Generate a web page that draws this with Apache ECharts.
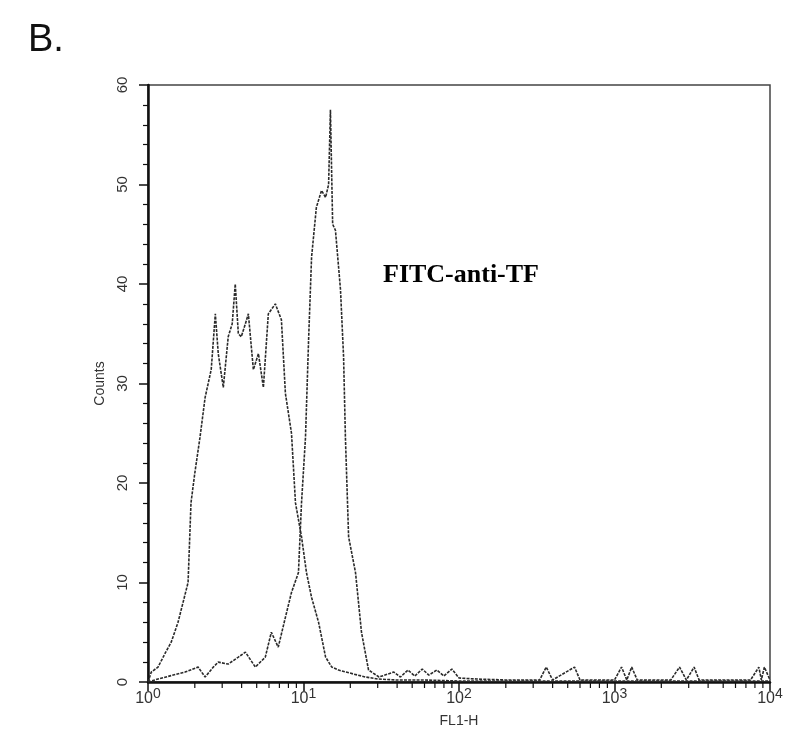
<!DOCTYPE html>
<html><head><meta charset="utf-8">
<script src="https://cdn.jsdelivr.net/npm/echarts@6/dist/echarts.min.js"></script>
<style>html,body{margin:0;padding:0;background:#fff}#c{width:788px;height:744px}</style>
</head><body><div id="c"></div>
<script>
// Control (isotype) histogram: FL1-H channel value, counts
const ctrlX = [1.0,1.05,1.16,1.3,1.41,1.56,1.81,1.89,2.0,2.16,2.33,2.55,2.71,2.83,3.05,3.28,3.48,3.64,3.81,3.98,4.23,4.42,4.76,5.13,5.52,5.94,6.59,7.21,7.65,8.37,8.88,9.71,10.45,11.27,12.5,13.87,15.2,16.8,21,25.1,30,40,60,100,200,500,1000,3000,10000];
const ctrlY = [0,1,1.5,3,4,6,10,18,21,24.6,28.6,31.4,37,33,29.6,34.7,36,40,35,34.7,36,37,31.4,33,29.6,37,38,36.4,29,25,18,14.6,11,8.5,6,2.5,1.5,1.2,0.8,0.5,0.3,0.2,0.2,0.1,0.1,0.1,0.1,0.1,0.1];
// FITC-anti-TF histogram
const tfX = [1.0,1.16,1.73,2.1,2.33,2.63,2.83,3.28,3.81,4.23,4.9,5.68,6.21,6.88,7.65,8.37,9.28,9.71,10.3,10.8,11.27,12.1,13.06,13.87,14.5,14.9,15.4,16.05,17.3,18.1,18.6,19.5,21.6,23.6,26.2,30.6,38.1,42,47,52,58,64,72,80,90,100,130,200,330,364,400,553,600,1000,1110,1200,1290,1400,2300,2620,2900,3250,3500,7500,8480,8800,9200,10000];
const tfY = [0,0.3,1,1.5,0.5,1.5,2,1.8,2.5,3,1.5,2.5,5,3.5,6.5,9,11,18,24.6,34.7,42.7,47.7,49.4,48.7,50,57.5,46,45.4,39.4,32.7,24.6,14.6,11,5,1.2,0.5,1,0.5,1.2,0.6,1.3,0.7,1.2,0.6,1.3,0.4,0.3,0.2,0.2,1.5,0.2,1.5,0.2,0.2,1.5,0.2,1.5,0.2,0.2,1.5,0.2,1.5,0.2,0.2,1.5,0.2,1.5,0.2];
const xMinorTicks = [];
for (const d of [1,10,100,1000]) for (let k=2;k<=9;k++) xMinorTicks.push(k*d);

const pairs = (xs, ys) => xs.map((x,i)=>[x, ys[i]]);
const chart = echarts.init(document.getElementById('c'), null, {renderer:'canvas'});
const lineStyle = {color:'#2a2a2a', width:1.6, type:[3,1.2]};
const SANS = 'Liberation Sans, Arial, sans-serif';
chart.setOption({
  animation:false,
  backgroundColor:'#fff',
  title:[
    {text:'B.', left:23, top:17, textStyle:{fontFamily:SANS, fontSize:38, fontWeight:'normal', color:'#111'}},
  ],
  graphic:[
    {type:'text', left:383, top:262, style:{text:'FITC-anti-TF', font:'bold 26px "Liberation Serif", "Times New Roman", serif', fill:'#000'}}
  ],
  grid:{left:148, right:18, top:85, bottom:62, show:true, borderColor:'#444', borderWidth:1.5},
  xAxis:{type:'log', logBase:10, min:1, max:10000,
    name:'FL1-H', nameLocation:'middle', nameGap:32,
    nameTextStyle:{fontFamily:SANS, fontSize:14, color:'#333'},
    axisLine:{onZero:false, lineStyle:{color:'#111', width:2.5}},
    axisTick:{inside:false, length:9, lineStyle:{color:'#111', width:1.5}},
    splitLine:{show:false},
    axisLabel:{margin:5, color:'#333',
      formatter: v => '{b|10}{s|' + Math.round(Math.log10(v)) + '}',
      rich:{b:{fontFamily:SANS, fontSize:16, color:'#333'},
            s:{fontFamily:SANS, fontSize:14, color:'#333', padding:[0,0,10,0]}}}
  },
  yAxis:{type:'value', min:0, max:60, interval:10,
    name:'Counts', nameLocation:'middle', nameGap:40, nameRotate:90,
    nameTextStyle:{fontFamily:SANS, fontSize:14, color:'#333'},
    axisLine:{show:true, lineStyle:{color:'#111', width:2.5}},
    axisTick:{show:true, inside:false, length:9, lineStyle:{color:'#111', width:1.5}},
    minorTick:{show:true, splitNumber:5, length:5, lineStyle:{color:'#111', width:1.2}},
    splitLine:{show:false},
    axisLabel:{rotate:90, margin:18, fontFamily:SANS, fontSize:15, color:'#333'}
  },
  series:[
    {type:'line', data:pairs(ctrlX, ctrlY), showSymbol:false, lineStyle, z:3},
    {type:'line', data:pairs(tfX, tfY), showSymbol:false, lineStyle, z:3},
    {type:'custom', data:xMinorTicks.map(v=>[v,0]), clip:false, silent:true, z:4,
      renderItem:(params, api)=>{
        const p = api.coord([api.value(0), 0]);
        return {type:'line', shape:{x1:p[0], y1:p[1], x2:p[0], y2:p[1]+6}, style:{stroke:'#111', lineWidth:1.2}};
      }}
  ]
});
</script></body></html>
